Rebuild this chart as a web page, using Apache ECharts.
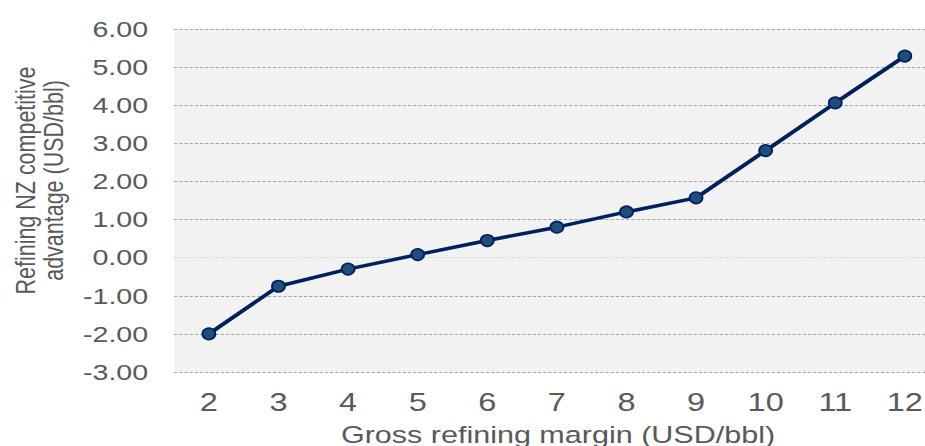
<!DOCTYPE html>
<html>
<head>
<meta charset="utf-8">
<script src="https://cdn.jsdelivr.net/npm/echarts@6/dist/echarts.min.js"></script>
<style>
  html, body { margin: 0; padding: 0; background: #fff; overflow: hidden; }
  /* the reference picture is stretched sideways, so the chart is drawn narrow and widened */
  #chart { width: 712px; height: 446px; transform: scaleX(1.2992); transform-origin: 0 0; }
</style>
</head>
<body>
<div id="chart"></div>
<script>
var margins = [2, 3, 4, 5, 6, 7, 8, 9, 10, 11, 12];
var advantage = [-2.00, -0.75, -0.30, 0.08, 0.45, 0.80, 1.20, 1.57, 2.81, 4.06, 5.29];

var points = margins.map(function (m, i) { return [m, advantage[i]]; });

var chart = echarts.init(document.getElementById('chart'), null, { renderer: 'svg' });
chart.setOption({
    animation: false,
    grid: {
        left: 134, top: 29, right: 0, bottom: 74,
        outerBoundsMode: 'none',
        show: true, backgroundColor: '#f2f2f2', borderWidth: 0
    },
    xAxis: {
        type: 'value',
        min: 1.5, max: 12.29,
        name: 'Gross refining margin (USD/bbl)',
        nameLocation: 'middle',
        nameGap: 51,
        nameTextStyle: { fontFamily: 'Liberation Sans', fontSize: 23.5, color: '#595959', padding: [0, 0, 0, 13] },
        axisLine: { show: false },
        axisTick: { show: false },
        splitLine: { show: false },
        axisLabel: {
            fontFamily: 'Liberation Sans', fontSize: 25, color: '#595959', margin: 18,
            customValues: margins
        }
    },
    yAxis: {
        type: 'value',
        min: -3, max: 6, interval: 1,
        name: 'Refining NZ competitive\nadvantage (USD/bbl)',
        nameLocation: 'middle',
        nameGap: 83,
        nameTextStyle: {
            fontFamily: 'Liberation Sans', fontSize: 21.5, color: '#595959',
            lineHeight: 21, padding: [0, 0, 0, 40]
        },
        axisLine: { show: false },
        axisTick: { show: false },
        axisLabel: {
            fontFamily: 'Liberation Sans', fontSize: 22, color: '#595959', margin: 20,
            padding: [3, 0, 0, 0],
            formatter: function (v) { return v.toFixed(2); }
        },
        splitLine: {
            lineStyle: {
                color: ['#a6a6a6', '#a6a6a6', '#a6a6a6', '#d9d9d9', '#a6a6a6', '#a6a6a6', '#a6a6a6', '#a6a6a6', '#a6a6a6', '#a6a6a6'],
                type: [2.5, 1.5], width: 1
            }
        }
    },
    series: [{
        type: 'line',
        data: points,
        symbol: 'circle',
        symbolSize: [10, 11.5],
        lineStyle: { color: '#002060', width: 3.5 },
        itemStyle: { color: '#1f4e79', borderColor: '#002060', borderWidth: 1.5 }
    }]
});
</script>
</body>
</html>
